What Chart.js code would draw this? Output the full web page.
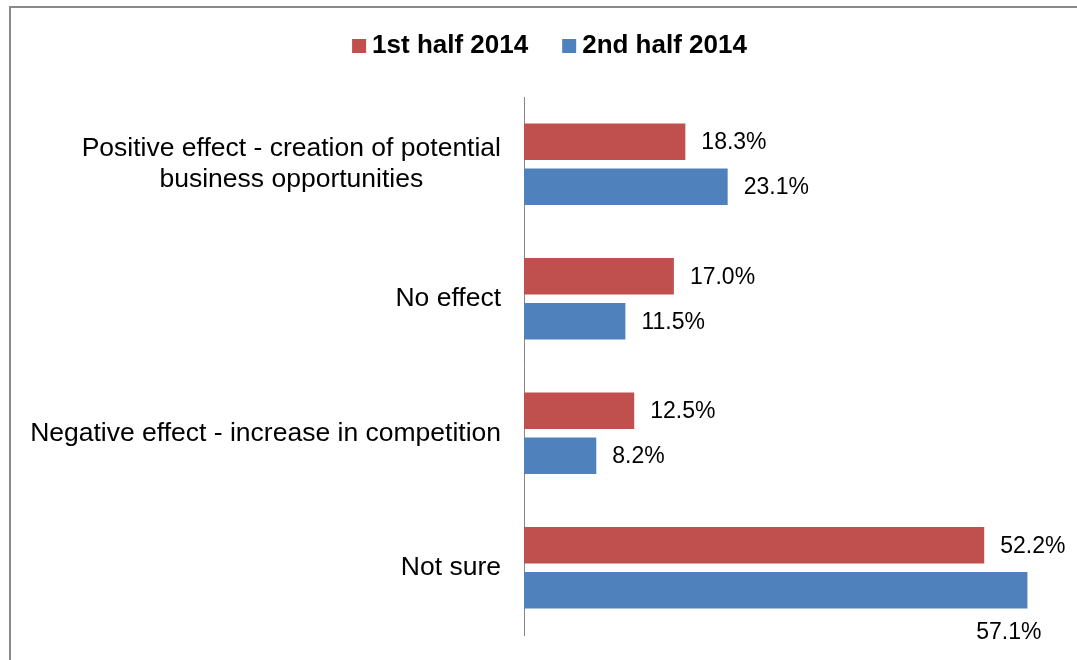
<!DOCTYPE html>
<html>
<head>
<meta charset="utf-8">
<title>Effect of new entrants</title>
<script src="https://cdn.jsdelivr.net/npm/chart.js@4.4.1/dist/chart.umd.min.js"></script>
<style>
  html, body { margin: 0; padding: 0; background: #fff; overflow: hidden; }
  #wrap { position: relative; width: 1077px; height: 660px; }
</style>
</head>
<body>
<div id="wrap"><canvas id="effectChart"></canvas></div>
<script>
// Answers, top to bottom (multi-line labels as arrays)
const categories = [
    ['Positive effect - creation of potential', 'business opportunities'],
    ['No effect'],
    ['Negative effect - increase in competition'],
    ['Not sure']
];
const seriesNames = ['1st half 2014', '2nd half 2014'];
const firstHalf = [18.3, 17.0, 12.5, 52.2];
const secondHalf = [23.1, 11.5, 8.2, 57.1];
const seriesColors = ['#C0504D', '#4F81BD'];
const axisMax = 60;

const FONT = '"Liberation Sans", Arial, sans-serif';

// Grey frame round the whole chart
const framePlugin = {
    id: 'frame',
    beforeDraw(chart) {
        const ctx = chart.ctx;
        ctx.save();
        ctx.strokeStyle = '#898989';
        ctx.lineWidth = 2;
        ctx.strokeRect(10, 7, 1200, 1000);
        ctx.restore();
    }
};

// Legend on top: small squares, bold names, centred in the frame
const topLegend = {
    id: 'topLegend',
    afterDraw(chart) {
        const ctx = chart.ctx;
        const box = 14, boxGap = 6, itemGap = 34, cy = 46;
        ctx.save();
        ctx.font = 'bold 26px ' + FONT;
        ctx.textBaseline = 'middle';
        ctx.textAlign = 'left';
        const items = chart.data.datasets.map(ds => ({
            label: ds.label, color: ds.backgroundColor,
            w: box + boxGap + ctx.measureText(ds.label).width
        }));
        const total = items.reduce((s, it) => s + it.w, 0) + itemGap * (items.length - 1);
        let x = 549.5 - total / 2;
        items.forEach(it => {
            ctx.fillStyle = it.color;
            ctx.fillRect(x, cy - box / 2, box, box);
            ctx.fillStyle = '#000';
            ctx.fillText(it.label, x + box + boxGap, cy);
            x += it.w + itemGap;
        });
        ctx.restore();
    }
};

// Category names: block right-aligned at the axis, lines centred inside it
const categoryLabels = {
    id: 'categoryLabels',
    afterDraw(chart) {
        const ctx = chart.ctx;
        const yScale = chart.scales.y;
        const rightEdge = yScale.right - 23;
        const lineHeight = 30.6;
        ctx.save();
        ctx.font = '26.5px ' + FONT;
        ctx.fillStyle = '#000';
        ctx.textAlign = 'center';
        ctx.textBaseline = 'middle';
        chart.data.labels.forEach((lines, i) => {
            const y = yScale.getPixelForValue(i);
            const widest = Math.max(...lines.map(l => ctx.measureText(l).width));
            const cx = rightEdge - widest / 2;
            const y0 = y - (lines.length - 1) * lineHeight / 2;
            lines.forEach((l, j) => ctx.fillText(l, cx, y0 + j * lineHeight));
        });
        ctx.restore();
    }
};

// Percent labels beside each bar; pushed under the bar if it would run off the edge
const valueLabels = {
    id: 'valueLabels',
    afterDatasetsDraw(chart) {
        const ctx = chart.ctx;
        ctx.save();
        ctx.font = '23px ' + FONT;
        ctx.fillStyle = '#000';
        ctx.textBaseline = 'middle';
        chart.data.datasets.forEach((ds, di) => {
            const meta = chart.getDatasetMeta(di);
            meta.data.forEach((bar, i) => {
                const text = ds.data[i].toFixed(1) + '%';
                const w = ctx.measureText(text).width;
                if (bar.x + 16 + w > chart.width - 4) {
                    ctx.textAlign = 'right';
                    ctx.fillText(text, bar.x + 14, bar.y + 42);
                } else {
                    ctx.textAlign = 'left';
                    ctx.fillText(text, bar.x + 16, bar.y + 1);
                }
            });
        });
        ctx.restore();
    }
};

const ctx = document.getElementById('effectChart').getContext('2d');
const effectChart = new Chart(ctx, {
    type: 'bar',
    data: {
        labels: categories,
        datasets: [
            { label: seriesNames[0], data: firstHalf, backgroundColor: seriesColors[0] },
            { label: seriesNames[1], data: secondHalf, backgroundColor: seriesColors[1] }
        ]
    },
    options: {
        indexAxis: 'y',
        responsive: true,
        maintainAspectRatio: false,
        animation: false,
        categoryPercentage: 0.67,
        barPercentage: 0.81,
        layout: { padding: { top: 97, bottom: 25, right: 24, left: 0 } },
        scales: {
            x: { display: false, min: 0, max: axisMax },
            y: {
                grid: { display: false },
                border: { display: true, color: '#868686', width: 1 },
                ticks: { display: false },
                afterFit: scale => { scale.width = 524; }
            }
        },
        plugins: {
            legend: { display: false },
            tooltip: { enabled: false }
        }
    },
    plugins: [framePlugin, topLegend, categoryLabels, valueLabels]
});
</script>
</body>
</html>
